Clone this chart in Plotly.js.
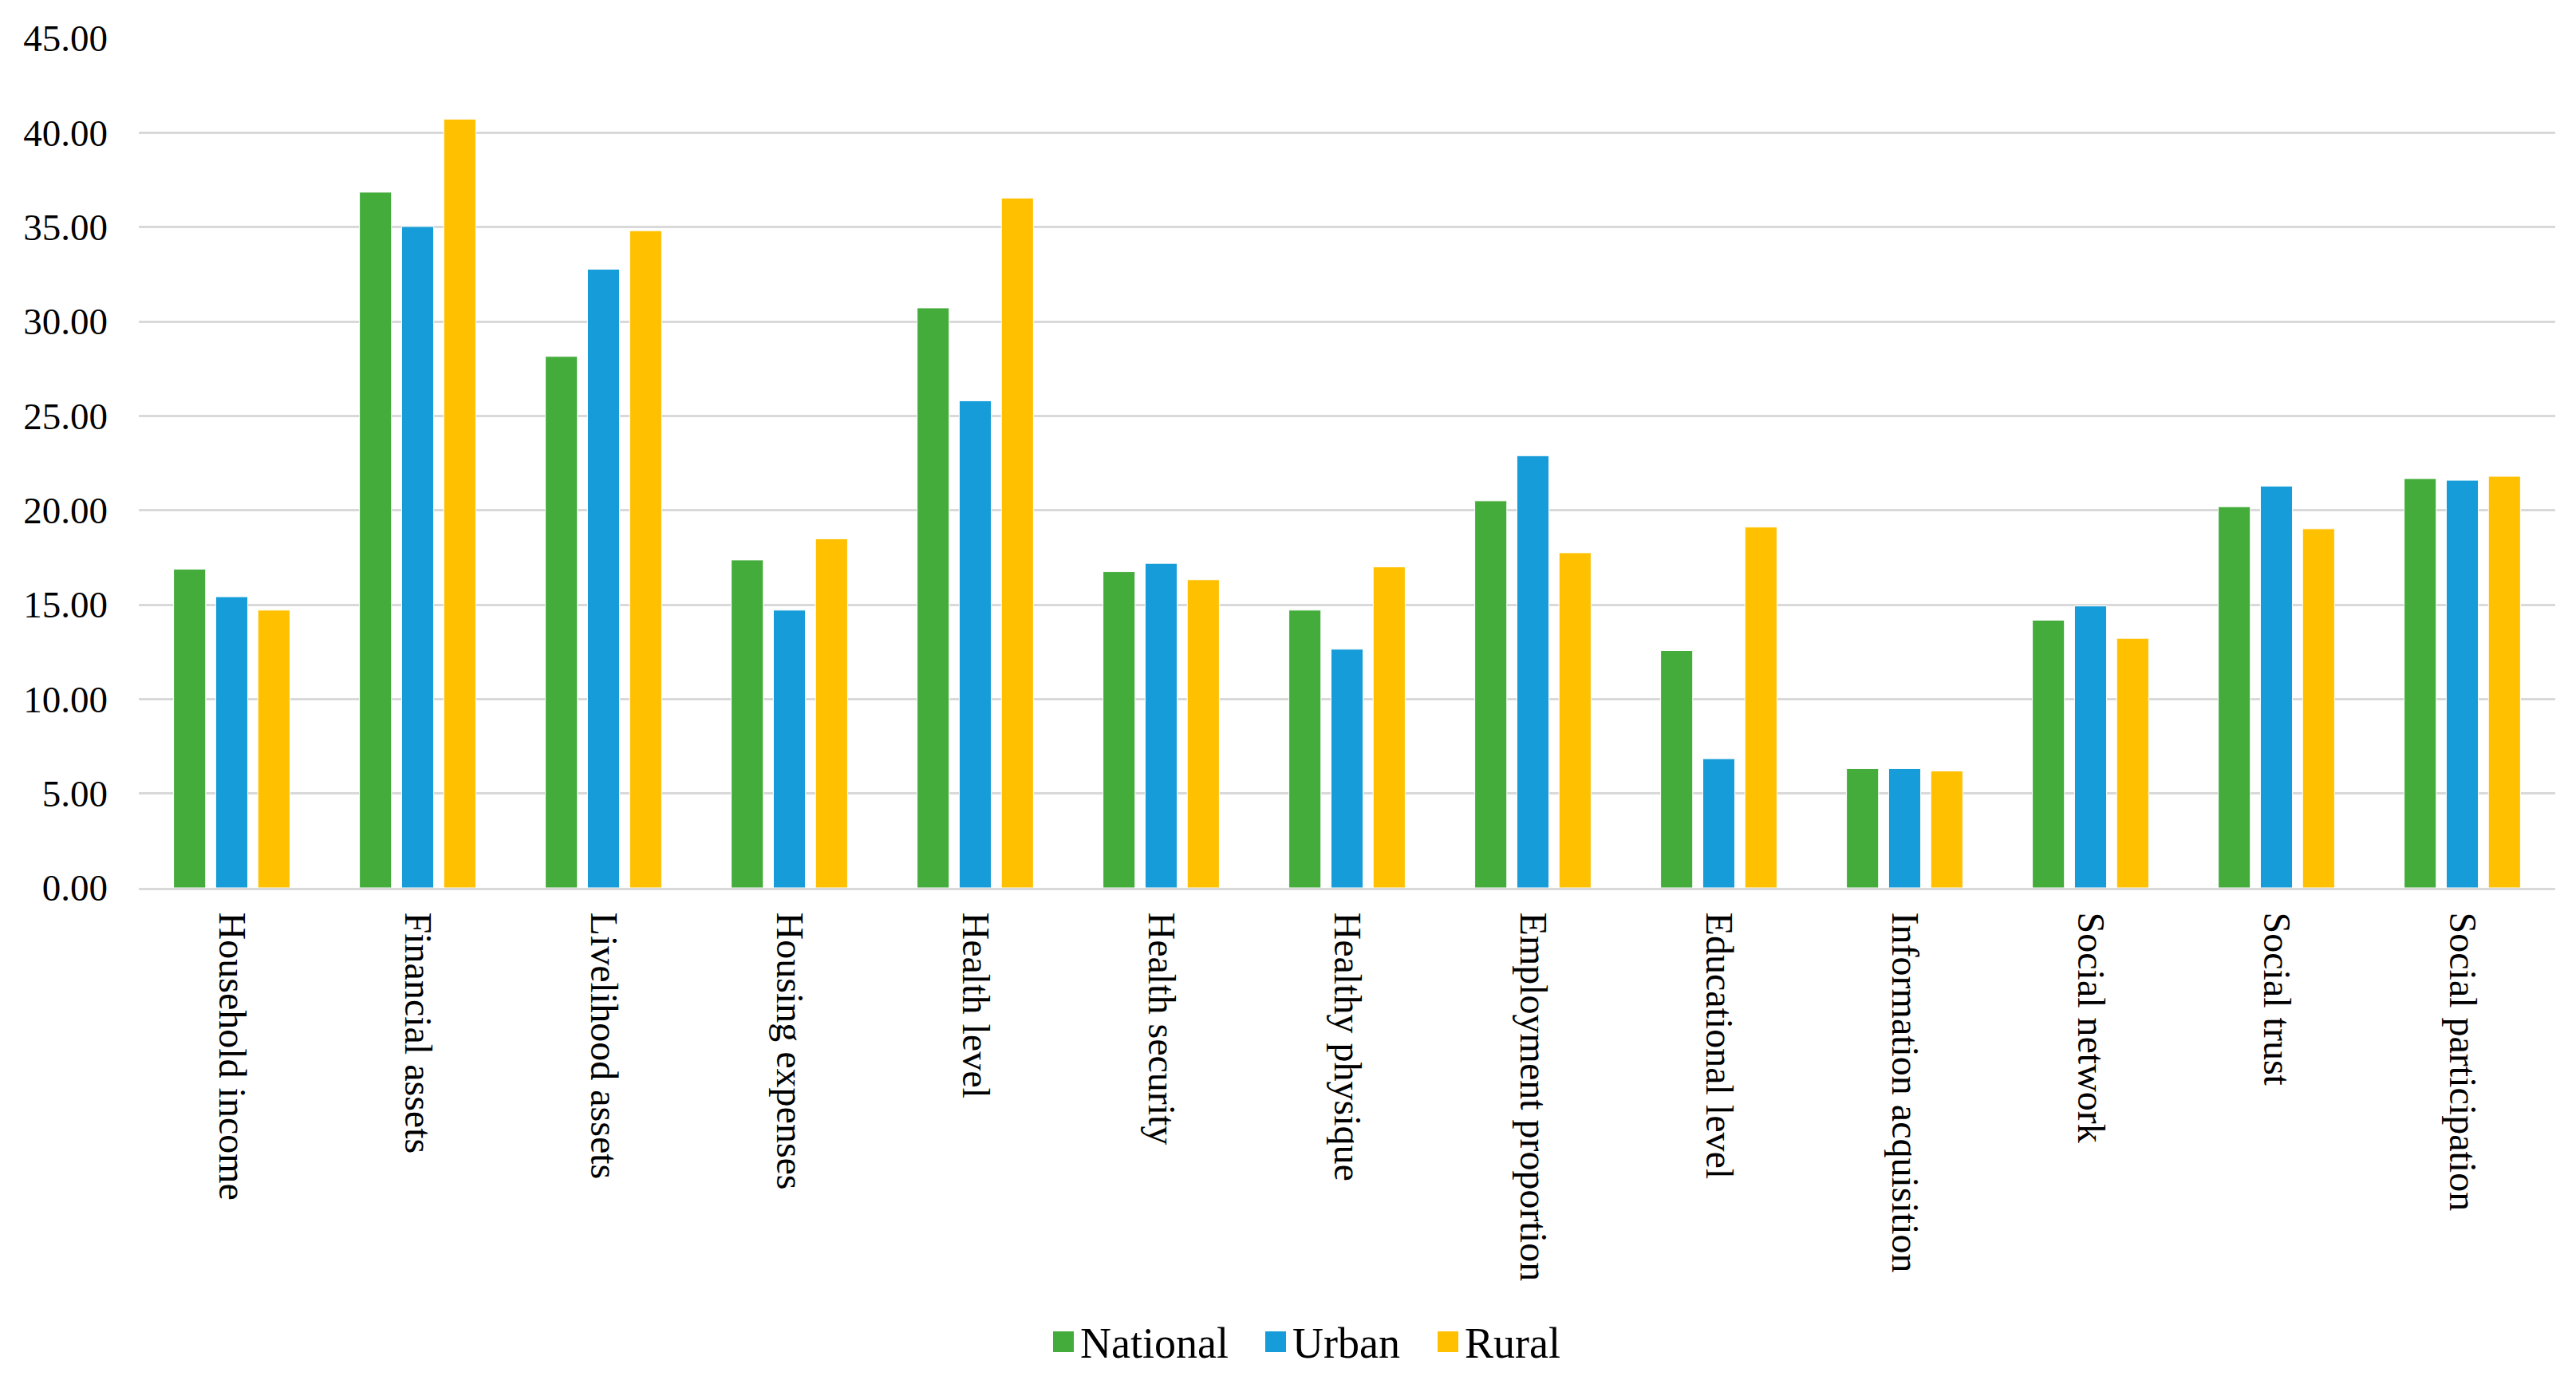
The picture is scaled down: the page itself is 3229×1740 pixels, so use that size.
<!DOCTYPE html>
<html>
<head>
<meta charset="utf-8">
<script src="https://cdn.plot.ly/plotly-3.0.1.min.js"></script>
<style>html,body{margin:0;padding:0;background:#fff;}#chart{width:3229px;height:1740px;}</style>
</head>
<body>
<div id="chart"></div>
<script>
const categories = ["Household income","Financial assets","Livelihood assets","Housing expenses","Health level","Health security","Healthy physique","Employment proportion","Educational level","Information acquisition","Social network","Social trust","Social participation"];
const national = [16.88, 36.85, 28.15, 17.37, 30.72, 16.75, 14.71, 20.50, 12.57, 6.32, 14.18, 20.19, 21.68];
const urban    = [15.42, 35.03, 32.77, 14.71, 25.80, 17.19, 12.64, 22.89, 6.84, 6.32, 14.93, 21.28, 21.59];
const rural    = [14.71, 40.72, 34.81, 18.49, 36.54, 16.32, 17.00, 17.75, 19.11, 6.19, 13.22, 19.02, 21.80];
const seriesNames = ["National","Urban","Rural"];
const yTicks = [0,5,10,15,20,25,30,35,40,45];

const colors = ["#43AC3B","#169CD8","#FFC000"];
const font = "Liberation Serif, Times New Roman, serif";

const W = 3229, H = 1740;
const M = {l: 174, r: 26, t: 48, b: 627};
const plotW = W - M.l - M.r, plotH = H - M.t - M.b;
const px2x = px => (px - M.l) / plotW;
const py2y = py => (H - M.b - py) / plotH;

const data = [national, urban, rural].map((vals, i) => ({
  type: "bar",
  name: seriesNames[i],
  x: categories,
  y: vals,
  showlegend: false,
  marker: {color: colors[i], line: {color: "#ffffff", width: 1}}
}));

// custom legend (pixel layout positions)
const legendSquareLeft = [1320, 1586, 1802];
const legendSq = 26, legendCy = 1682;
const shapes = [], annotations = [];
seriesNames.forEach((name, i) => {
  const x0 = legendSquareLeft[i];
  shapes.push({
    type: "rect", xref: "paper", yref: "paper",
    x0: px2x(x0), x1: px2x(x0 + legendSq),
    y0: py2y(legendCy - legendSq / 2), y1: py2y(legendCy + legendSq / 2),
    fillcolor: colors[i], line: {width: 0}
  });
  annotations.push({
    xref: "paper", yref: "paper",
    x: px2x(x0 + legendSq + 6), y: py2y(legendCy + 2),
    xanchor: "left", yanchor: "middle",
    text: name, showarrow: false,
    font: {family: font, size: 54, color: "#000"}
  });
});

const layout = {
  width: W, height: H,
  paper_bgcolor: "#fff", plot_bgcolor: "#fff",
  margin: M,
  barmode: "group",
  bargap: 0.32,
  bargroupgap: 0.24,
  font: {family: font, color: "#000"},
  xaxis: {
    type: "category",
    tickangle: 90,
    tickfont: {family: font, size: 48, color: "#000"},
    showgrid: false,
    showline: true, linecolor: "#D9D9D9", linewidth: 3,
    ticks: "",
    ticklabelstandoff: 18
  },
  yaxis: {
    range: [0, 45],
    tickvals: yTicks,
    ticktext: yTicks.map(v => v.toFixed(2)),
    tickfont: {family: font, size: 47, color: "#000"},
    showgrid: true, gridcolor: "#D9D9D9", gridwidth: 3,
    zeroline: false,
    showline: false,
    ticks: "",
    ticklabelstandoff: 38
  },
  showlegend: false,
  shapes: shapes,
  annotations: annotations
};

Plotly.newPlot("chart", data, layout, {displayModeBar: false, staticPlot: true});
</script>
</body>
</html>
